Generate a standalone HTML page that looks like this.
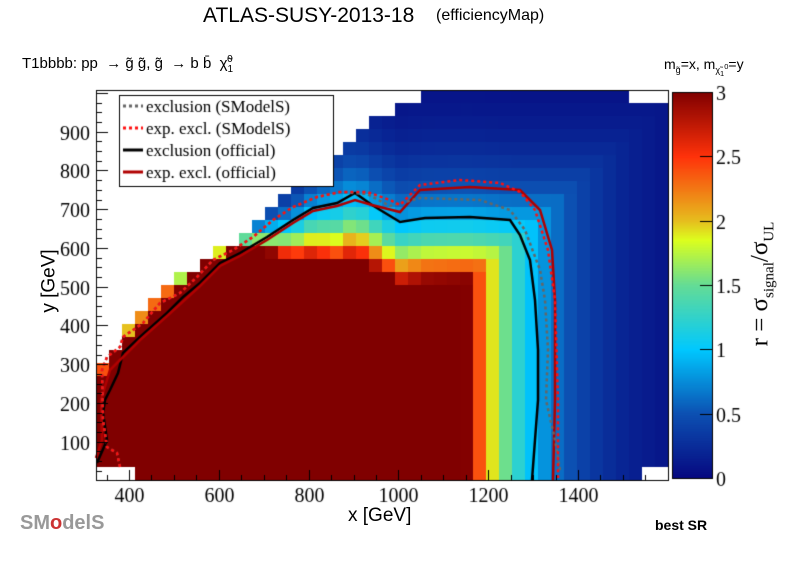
<!DOCTYPE html>
<html><head><meta charset="utf-8"><style>
body{margin:0;background:#fff;width:796px;height:572px;overflow:hidden;position:relative;font-family:"Liberation Sans",sans-serif}
.t{position:absolute;white-space:nowrap}
.s{font-family:"Liberation Serif",serif}
</style></head><body>
<canvas id="c" width="796" height="572" style="position:absolute;left:0;top:0"></canvas>
<div class="t" style="left:203px;top:4px;font-size:21px">ATLAS-SUSY-2013-18</div>
<div class="t" style="left:436px;top:7px;font-size:16px">(efficiencyMap)</div>
<div class="t" style="left:22px;top:54px;font-size:15px">T1bbbb: pp &nbsp;→ g̃ g̃, g̃ &nbsp;→ b b̄ &nbsp;χ̃<sub style="font-size:10px">1</sub><sup style="font-size:10px;margin-left:-6px">0</sup></div>
<div class="t" style="left:664px;top:56px;font-size:14px">m<sub style="font-size:9px">g̃</sub>=x, m<sub style="font-size:9px">χ̃<sub>1</sub><sup>0</sup></sub>=y</div>
<div class="t" style="left:348px;top:505px;font-size:19px">x [GeV]</div>
<div class="t" style="left:18px;top:270px;font-size:19px;transform:rotate(-90deg);transform-origin:center">y [GeV]</div>
<div class="t" style="left:655px;top:517px;font-size:14px;font-weight:bold">best SR</div>
<div class="t s" style="left:700px;top:268px;font-size:25px;transform:rotate(-90deg);transform-origin:center">r = σ<sub style="font-size:15px">signal</sub>/σ<sub style="font-size:15px">UL</sub></div>
<div class="t" style="left:20px;top:512px;font-size:20px;color:#999;font-weight:bold">SM<span style="color:#c33">o</span>delS</div>
<script>
const c=document.getElementById('c').getContext('2d');
const L=96,R=668,T=90,B=480;
const px=g=>129+(g-400)*0.449, py=g=>441.7-(g-100)*0.3875;
function interp(pts,x){if(x<=pts[0][0])return pts[0][1];for(let i=1;i<pts.length;i++){if(x<=pts[i][0]){const a=pts[i-1],b=pts[i];return a[1]+(b[1]-a[1])*(x-a[0])/(b[0]-a[0]);}}return pts[pts.length-1][1];}
const stops=[[0,[6,8,128]],[0.5,[12,80,178]],[1,[0,200,255]],[1.5,[100,220,150]],[1.85,[220,255,30]],[2,[230,190,30]],[2.5,[255,50,10]],[3,[128,0,0]]];
function col(r){r=Math.max(0,Math.min(3,r));for(let i=1;i<stops.length;i++){if(r<=stops[i][0]){const a=stops[i-1],b=stops[i],t=(r-a[0])/(b[0]-a[0]);return 'rgb('+a[1].map((v,k)=>Math.round(v+(b[1][k]-v)*t)).join(',')+')';}}}
const dataTop=[[96,372],[110,357],[125,332],[150,305],[170,285],[185,275],[210,255],[240,240],[260,222],[270,210],[285,195],[300,175],[310,168],[323,160],[340,150],[353,140],[367,122],[380,118],[400,105],[440,88]];
const ytop=[[96,366],[110,351],[125,326],[150,299],[170,279],[185,269],[210,249],[240,236],[267,230],[293,225],[313,213],[337,208],[355,200],[372,210],[400,227],[425,223],[470,222],[510,225],[668,225]];
const cw=13,ch=13;
for(let x=L;x<R;x+=cw){for(let y=B-ch;y>T-ch;y-=ch){
 const cx=x+cw/2,cy=y+ch/2;
 if(cy<interp(dataTop,cx))continue;
 if(cx<135&&cy>466)continue;
 if(cx>628&&cy<100)continue;
 if(cx>640&&cy>468)continue;
 const sc=cx<250?12:(cx<340?12+(cx-250)*0.45:52);
 const lx=(530-cx)/58, ly=(cy-interp(ytop,cx))/sc;
 const r=Math.exp(Math.min(lx,ly));
 c.fillStyle=col(r);
 const y0=Math.max(y,T);c.fillRect(x,y0,Math.min(cw,R-x),y+ch-y0);
}}
for(let y=92;y<478;y++){c.fillStyle=col(3*(478-y)/386);c.fillRect(672,y,40,1);}
function line(pts,color,w,dash){c.beginPath();c.strokeStyle=color;c.lineWidth=w;c.setLineDash(dash||[]);pts.forEach((p,i)=>i?c.lineTo(p[0],p[1]):c.moveTo(p[0],p[1]));c.stroke();c.setLineDash([]);}
line([[97,463],[107,440],[103,413],[105,400],[110,390],[118,373],[123,353],[140,337],[167,313],[183,297],[200,283],[220,263],[240,253],[267,237],[293,220],[313,208],[337,203],[355,193],[372,205],[400,222],[425,218],[470,217],[510,220],[520,235],[530,260],[535,300],[538,350],[538,400],[535,440],[532,480]],'#000',2.5);
line([[96,458],[102,440],[101,400],[110,370],[120,360],[140,340],[167,316],[200,286],[220,266],[240,256],[267,240],[293,223],[313,211],[337,206],[355,200],[372,205],[400,212],[420,190],[470,187],[520,190],[540,210],[552,250],[555,300],[555,400],[553,480]],'#b00000',2.5);
line([[120,467],[117,453],[107,447],[103,420],[102,370],[107,357],[120,347],[123,337],[143,323],[160,303],[180,293],[197,277],[213,260],[233,250],[253,237],[273,220],[293,207],[317,197],[340,192],[367,194],[390,206],[420,198],[480,200],[510,210],[525,230],[540,270],[545,300],[548,350],[546,400],[555,440],[560,470]],'#666',2.5,[3,3]);
line([[120,467],[117,453],[107,447],[103,420],[102,370],[107,357],[120,347],[123,337],[143,323],[160,303],[180,293],[197,277],[213,260],[233,250],[253,237],[273,220],[293,207],[317,197],[340,192],[367,192],[390,200],[400,205],[420,185],[460,180],[500,183],[520,192],[535,210],[548,250],[555,300],[558,400],[558,478]],'#ff1010',2.5,[3,3]);
c.strokeStyle='#000';c.lineWidth=1;c.strokeRect(L+.5,T+.5,R-L,B-T);c.strokeRect(672.5,92.5,40,386);
c.fillStyle='#000';c.font='20px "Liberation Serif",serif';c.textAlign='center';c.beginPath();
for(let g=350;g<=1600;g+=50){const x=Math.round(px(g))+.5;if(x<L||x>R)continue;const l=g%200==0?10:5;c.moveTo(x,B);c.lineTo(x,B-l);if(g%200==0&&g<1600)c.fillText(g,x,B+22);}
c.textAlign='right';
for(let g=25;g<=1000;g+=25){const y=Math.round(py(g))+.5;if(y<T||y>B)continue;const l=g%100==0?12:6;c.moveTo(L,y);c.lineTo(L+l,y);if(g%100==0&&g<1000)c.fillText(g,L-6,y+7);}
c.textAlign='left';
for(let i=0;i<=6;i++){const v=i*0.5,y=Math.round(478-386*v/3)+.5;c.moveTo(700,y);c.lineTo(712,y);c.fillText(v==0?'0':(v%1?v:v.toFixed(0)),716,y+7);}
c.stroke();
c.fillStyle='#fff';c.fillRect(119,95,214,91);c.strokeRect(119.5,95.5,214,91);
const lg=[['exclusion (SModelS)','#666',[3,3]],['exp. excl. (SModelS)','#ff1010',[3,3]],['exclusion (official)','#000',[]],['exp. excl. (official)','#b00000',[]]];
c.font='17px "Liberation Serif",serif';
lg.forEach((e,i)=>{const y=106+i*22;line([[123,y],[143,y]],e[1],3,e[2]);c.fillStyle='#000';c.fillText(e[0],146,y+6);});
</script>
</body></html>
